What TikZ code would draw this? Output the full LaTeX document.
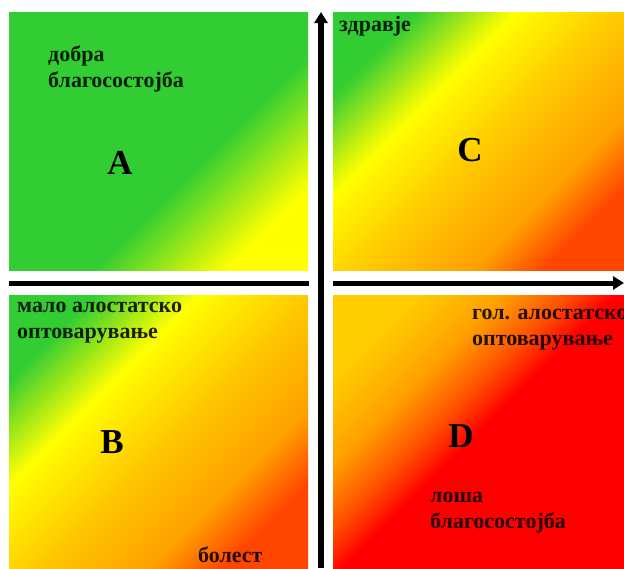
\documentclass[tikz,border=0pt]{standalone}
\usepackage{fontspec}
\setmainfont{Liberation Serif}
\usepackage{tikz}
\usetikzlibrary{arrows.meta,positioning}
\definecolor{qgreen}{RGB}{50,205,50}
\definecolor{qyellow}{RGB}{255,255,0}
\definecolor{qgold}{RGB}{255,200,0}
\definecolor{qorange}{RGB}{255,160,0}
\definecolor{qred}{RGB}{255,0,0}
\definecolor{qredorange}{RGB}{255,70,0}
\definecolor{qamber}{RGB}{255,205,0}
\pgfdeclarehorizontalshading{wellshade}{100bp}{color(0bp)=(qgreen); color(25bp)=(qgreen); color(58bp)=(qgreen); color(75bp)=(qyellow); color(100bp)=(qyellow)}
\pgfdeclarehorizontalshading{midshade}{100bp}{color(0bp)=(qgreen); color(25bp)=(qgreen); color(38bp)=(qyellow); color(52bp)=(qgold); color(66bp)=(qorange); color(75bp)=(qredorange); color(100bp)=(qredorange)}
\pgfdeclarehorizontalshading{illshade}{100bp}{color(0bp)=(qamber); color(25bp)=(qamber); color(36bp)=(qorange); color(44bp)=(qorange!50!qred); color(50bp)=(qred); color(100bp)=(qred)}
\tikzset{
  quad/.style={rectangle, anchor=north west, inner sep=0pt, shade, shading angle=-45},
  qnote/.style={font=\fontsize{22}{26}\selectfont\bfseries, align=left, inner sep=0pt, anchor=base west, text opacity=0.85},
  qletter/.style={font=\fontsize{35}{40}\selectfont\bfseries, inner sep=0pt, anchor=base},
  axis/.style={-{Triangle[length=11pt,width=13pt]}, black}
}

\begin{document}
\begin{tikzpicture}[x=1pt,y=-1pt]
\useasboundingbox (0,0) rectangle (624,568);
% quadrants
\node[quad, shading=wellshade, minimum width=299pt, minimum height=258pt] (qa) at (9,12) {};
\node[quad, shading=midshade, minimum width=291pt, minimum height=258pt] (qc) at (333,12) {};
\node[quad, shading=midshade, minimum width=299pt, minimum height=273pt] (qb) at (9,295) {};
\node[quad, shading=illshade, minimum width=291pt, minimum height=273pt] (qd) at (333,295) {};
% axes
\coordinate (hstart) at (9,283);
\coordinate (hend) at (624,283);
\coordinate (vstart) at (321,568);
\coordinate (vend) at (321,12);
\draw[axis, line width=5pt] (hstart) -- (hend);
\draw[axis, line width=6pt, preaction={draw=white, line width=24pt, -}] (vstart) -- (vend);
% labels (base = last line)
\node[qnote] (wellgood) at (48,87) {добра\\благосостојба};
\node[qletter] (la) at (120,174) {A};
\node[qnote] (health) at (339,31) {здравје};
\node[qletter] (lc) at (470,161) {C};
\node[qnote] (lowload) at (17,338) {мало алостатско\\оптоварување};
\node[qletter] (lb) at (112,453) {B};
\node[qnote] (illness) at (198,562) {болест};
\node[qnote] (highload) at (472,345) {гол. алостатско\\оптоварување};
\node[qletter] (ld) at (461,447) {D};
\node[qnote] (wellbad) at (430,528) {лоша\\благосостојба};
\end{tikzpicture}
\end{document}
